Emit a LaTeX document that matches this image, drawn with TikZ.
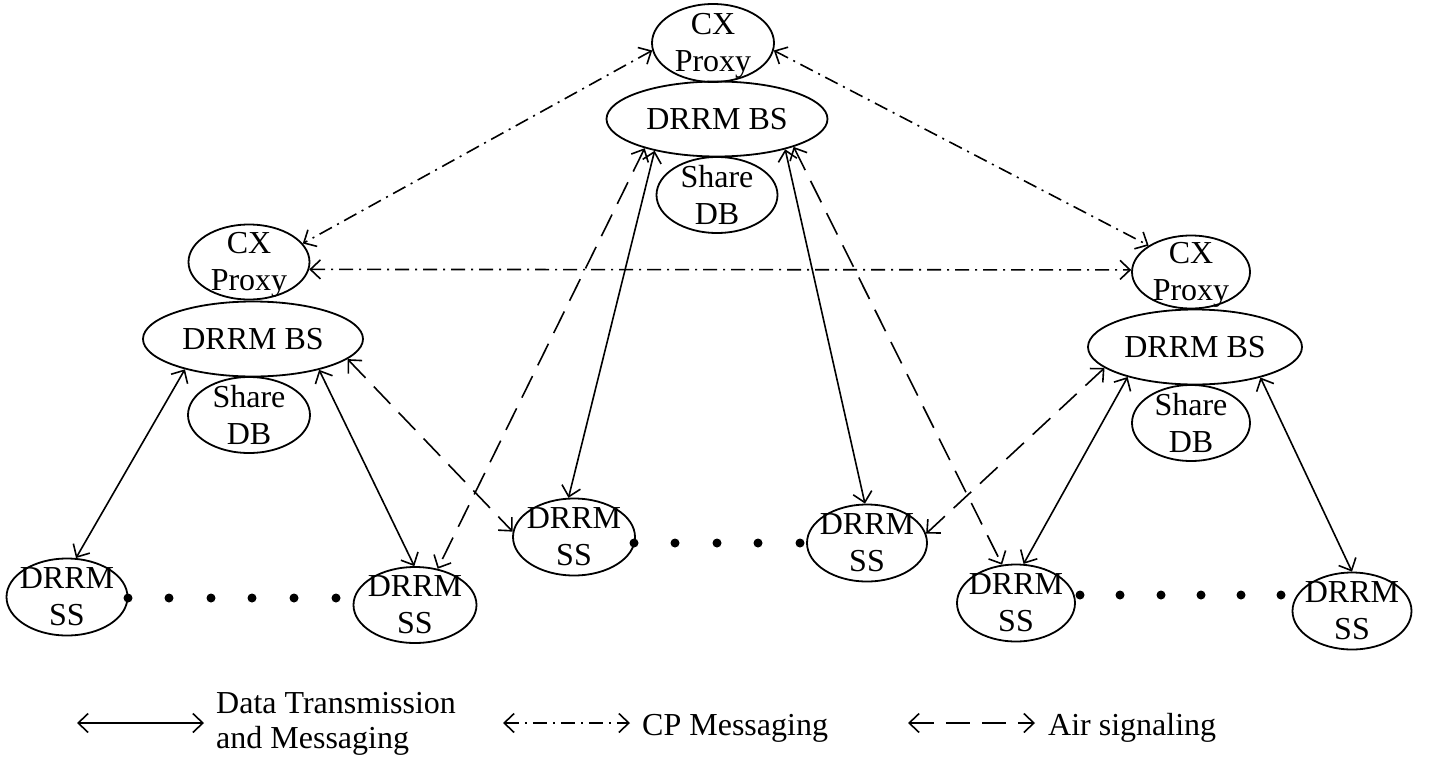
\documentclass[tikz,border=0pt]{standalone}
\usepackage{fontspec}
\setmainfont{Liberation Serif}
\usetikzlibrary{shapes.geometric,arrows.meta}
\begin{document}
\begin{tikzpicture}[x=1pt,y=-1pt,
  ell/.style={ellipse,draw,line width=1.8pt,inner sep=0pt},
  txt/.style={align=center,inner sep=0pt,font=\fontsize{32}{37}\selectfont},
  legtxt/.style={align=left,inner sep=0pt,anchor=west,font=\fontsize{32}{35}\selectfont},
  link/.style={line width=1.6pt,{Straight Barb[length=10pt,width=19pt]}-{Straight Barb[length=10pt,width=19pt]}},
  data/.style={link},
  cp/.style={link,dash pattern=on 14pt off 6pt on 2pt off 6pt},
  air/.style={link,dash pattern=on 24pt off 12pt},
  bigdot/.style={circle,fill,inner sep=0pt,minimum size=9pt}
]
\useasboundingbox (0,0) rectangle (1440,763);

% ---- central cell ----
\node[ell,minimum width=122pt,minimum height=78pt,label={[txt,yshift=-3pt]center:{CX\\Proxy}}] (cxT) at (713,43) {};
\node[ell,minimum width=221pt,minimum height=75pt,label={[txt]center:{DRRM BS}}] (bsT) at (717,119) {};
\node[ell,minimum width=121pt,minimum height=76pt,label={[txt]center:{Share\\DB}}] (dbT) at (717,195) {};
\node[ell,minimum width=122pt,minimum height=77pt,label={[txt]center:{DRRM\\SS}}] (ssM1) at (574,537) {};
\node[ell,minimum width=120pt,minimum height=77pt,label={[txt]center:{DRRM\\SS}}] (ssM2) at (867,543) {};

% ---- left cell ----
\node[ell,minimum width=121pt,minimum height=75pt,label={[txt,yshift=-3pt]center:{CX\\Proxy}}] (cxL) at (249,262) {};
\node[ell,minimum width=220pt,minimum height=75pt,label={[txt]center:{DRRM BS}}] (bsL) at (253,339) {};
\node[ell,minimum width=122pt,minimum height=76pt,label={[txt]center:{Share\\DB}}] (dbL) at (249,415) {};
\node[ell,minimum width=121pt,minimum height=77pt,label={[txt]center:{DRRM\\SS}}] (ssL1) at (67,597) {};
\node[ell,minimum width=123pt,minimum height=76pt,label={[txt]center:{DRRM\\SS}}] (ssL2) at (415,605) {};

% ---- right cell ----
\node[ell,minimum width=118pt,minimum height=73pt,label={[txt,yshift=-3pt]center:{CX\\Proxy}}] (cxR) at (1191,272) {};
\node[ell,minimum width=214pt,minimum height=75pt,label={[txt]center:{DRRM BS}}] (bsR) at (1195,347) {};
\node[ell,minimum width=118pt,minimum height=76pt,label={[txt]center:{Share\\DB}}] (dbR) at (1191,423) {};
\node[ell,minimum width=118pt,minimum height=77pt,label={[txt]center:{DRRM\\SS}}] (ssR1) at (1016,603) {};
\node[ell,minimum width=119pt,minimum height=77pt,label={[txt]center:{DRRM\\SS}}] (ssR2) at (1352,611) {};

% ---- rows of dots between subscriber stations ----
\foreach \x in {128,169,211,252,294,336} \node[bigdot] at (\x,598) {};
\foreach \x in {634,675,717,758,800} \node[bigdot] at (\x,543) {};
\foreach \x in {1080,1120,1161,1201,1241,1281} \node[bigdot] at (\x,595) {};

% ---- CP messaging between proxies ----
\draw[cp] (cxT.187.6) -- (cxL.19.4);
\draw[cp] (cxT.-7.6) -- (cxR.148.6);
\draw[cp] (cxL.-7.7) -- (cxR.178);

% ---- data transmission and messaging ----
\draw[data] (bsT.207.6) -- (ssM1.98.5);
\draw[data] (bsT.-24.5) -- (ssM2.93);
\draw[data] (bsL.204.5) -- (ssL1.77);
\draw[data] (bsL.-25.5) -- (ssL2.91.5);
\draw[data] (bsR.204.8) -- (ssR1.79);
\draw[data] (bsR.-25.8) -- (ssR2.90);

% ---- air signaling ----
\draw[air] (bsT.202) -- (ssL2.58.8);
\draw[air] (bsT.-20.4) -- (ssR1.110);
\draw[air] (bsL.-12.9) -- (ssM1.175);
\draw[air] (bsR.193.1) -- (ssM2.9.3);

% ---- legend ----
\coordinate (k1a) at (77,723);  \coordinate (k1b) at (204,723);
\coordinate (k2a) at (503,723); \coordinate (k2b) at (630,723);
\coordinate (k3a) at (908,723); \coordinate (k3b) at (1035,723);
\draw[data] (k1a) -- (k1b);
\draw[cp] (k2a) -- (k2b);
\draw[air] (k3a) -- (k3b);
\node[legtxt] (k1t) at (216,724) {Data Transmission\\and Messaging};
\node[legtxt] (k2t) at (642,728) {CP Messaging};
\node[legtxt] (k3t) at (1048,728) {Air signaling};
\end{tikzpicture}
\end{document}
